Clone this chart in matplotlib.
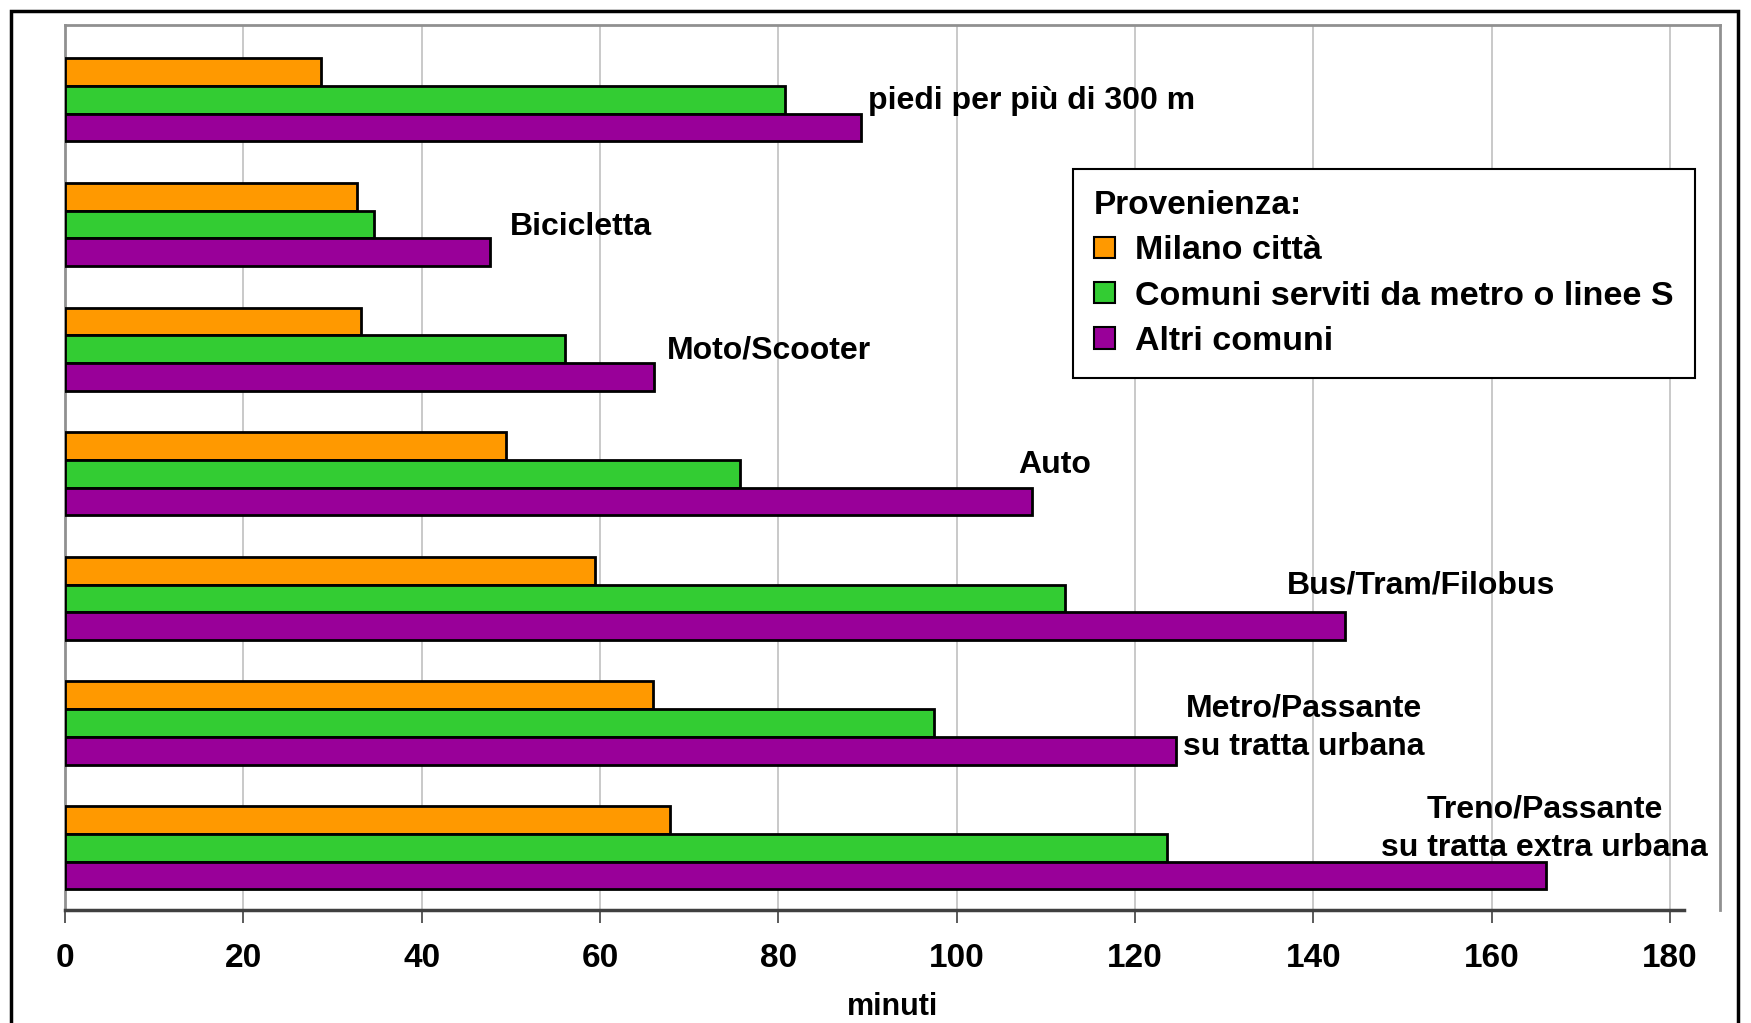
import matplotlib
matplotlib.use("Agg")
import matplotlib.pyplot as plt
from matplotlib.patches import Patch, Rectangle
import numpy as np

plt.rcParams['font.family'] = ['Liberation Sans', 'DejaVu Sans']
plt.rcParams['font.weight'] = 'bold'

# categories from top to bottom
categories = ["piedi per più di 300 m", "Bicicletta", "Moto/Scooter", "Auto",
              "Bus/Tram/Filobus", "Metro/Passante\nsu tratta urbana",
              "Treno/Passante\nsu tratta extra urbana"]
series_names = ["Milano città", "Comuni serviti da metro o linee S", "Altri comuni"]
milano = [28.7, 32.7, 33.2, 49.4, 59.4, 65.9, 67.8]
comuni_metro = [80.7, 34.7, 56.1, 75.7, 112.2, 97.5, 123.6]
altri = [89.3, 47.7, 66.1, 108.4, 143.6, 124.6, 166.1]
colors = ["#FF9900", "#33CC33", "#990099"]

# label anchors (x, y in data units, alignment)
label_pos = [(90.1, 5.99, 'left'), (49.9, 4.98, 'left'), (67.5, 3.99, 'left'),
             (106.9, 3.07, 'left'), (137.0, 2.1, 'left'),
             (138.9, 0.96, 'center'), (165.9, 0.15, 'center')]

fig = plt.figure(figsize=(17.51, 10.23), dpi=100)
ax = fig.add_axes([65/1751, 1-910/1023, (1720-65)/1751, (910-25)/1023])

n = len(categories)
y = np.arange(n)[::-1]
h = 0.667 / 3
for k, vals in enumerate([milano, comuni_metro, altri]):
    ax.barh(y + h - k*h, vals, height=h, color=colors[k], edgecolor='black',
            linewidth=2, zorder=3)

for (x0, y0, ha), lab in zip(label_pos, categories):
    ax.text(x0, y0, lab, ha=ha, va='center', fontsize=23, fontweight='bold',
            linespacing=1.38, zorder=4)

ax.set_xlim(0, 185.6)
ax.set_ylim(-0.5, 6.6)
ax.set_xticks(np.arange(0, 181, 20))
ax.set_yticks([])
ax.xaxis.grid(True, color='#c0c0c0', linewidth=1.2, zorder=0)
ax.tick_params(axis='x', direction='out', length=9, width=1.2, color='#404040',
               labelsize=24, pad=15)
for t in ax.get_xticklabels():
    t.set_fontweight('bold')
for s in ['top', 'right', 'left']:
    ax.spines[s].set_color('#909090')
    ax.spines[s].set_linewidth(2)
ax.spines['bottom'].set_color('#404040')
ax.spines['bottom'].set_linewidth(2.5)
ax.spines['bottom'].set_bounds(0, 181.6)
ax.set_xlabel("minuti", fontsize=22, fontweight='bold', labelpad=13)

handles = [Patch(facecolor=c, edgecolor='black', linewidth=1.5) for c in colors]
leg = ax.legend(handles, series_names, title="Provenienza:", loc='upper left',
                bbox_to_anchor=(1073/1751, 1-169/1023), bbox_transform=fig.transFigure,
                borderaxespad=0,
                fontsize=24.5, title_fontproperties={'size': 24, 'weight': 'bold'},
                alignment='left', frameon=True, fancybox=False, framealpha=1,
                edgecolor='black', handlelength=0.6, handleheight=0.6,
                handletextpad=0.6, labelspacing=0.42, borderpad=0.62)
leg.get_frame().set_linewidth(1.5)
leg.set_zorder(5)

fig.patches.append(Rectangle((11/1751, -0.05), (1738-11)/1751, 1.05-11/1023,
                             transform=fig.transFigure, fill=False,
                             edgecolor='black', linewidth=2.5))

fig.savefig("out.png", dpi=100)
